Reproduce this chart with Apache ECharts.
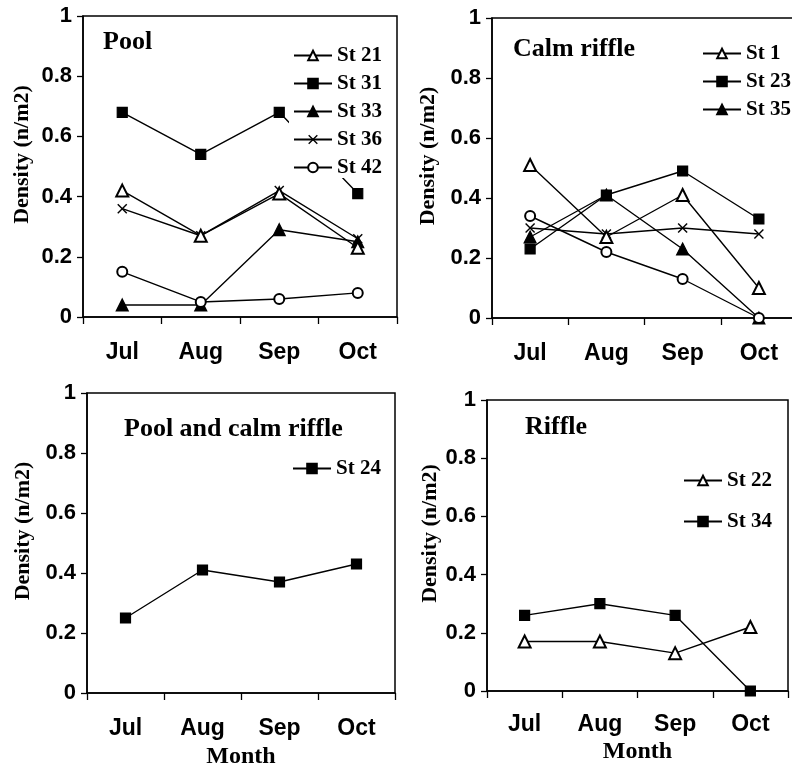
<!DOCTYPE html>
<html><head><meta charset="utf-8">
<script src="https://cdn.jsdelivr.net/npm/echarts@6/dist/echarts.min.js"></script>
<style>html,body{margin:0;padding:0;background:#fff}#c{width:792px;height:767px}</style>
</head><body><div id="c"></div>
<script>
// ---- data ----
const months = ['Jul', 'Aug', 'Sep', 'Oct'];
const panelTitles = ['Pool', 'Calm riffle', 'Pool and calm riffle', 'Riffle'];
// Pool
const poolSt21 = [0.42, 0.27, 0.41, 0.23];
const poolSt31 = [0.68, 0.54, 0.68, 0.41];
const poolSt33 = [0.04, 0.04, 0.29, 0.25];
const poolSt36 = [0.36, 0.27, 0.42, 0.26];
const poolSt42 = [0.15, 0.05, 0.06, 0.08];
// Calm riffle
const calmSt1 = [0.51, 0.27, 0.41, 0.10];
const calmSt23 = [0.23, 0.41, 0.49, 0.33];
const calmSt35 = [0.27, 0.41, 0.23, 0.00];
const calmCross = [0.30, 0.28, 0.30, 0.28];
const calmCircle = [0.34, 0.22, 0.13, 0.00];
// Pool and calm riffle
const mixSt24 = [0.25, 0.41, 0.37, 0.43];
// Riffle
const riffleSt22 = [0.17, 0.17, 0.13, 0.22];
const riffleSt34 = [0.26, 0.30, 0.26, 0.00];

// ---- styling ----
const SERIF = 'Liberation Serif';
const SANS = 'Liberation Sans';
const crossPath = 'path://M0,1 L1,0 L5,4 L9,0 L10,1 L6,5 L10,9 L9,10 L5,6 L1,10 L0,9 L4,5 Z';
const SYM = {
  openTri: { symbol: 'emptyTriangle', size: 12 },
  square: { symbol: 'rect', size: 10 },
  tri: { symbol: 'triangle', size: 12 },
  cross: { symbol: crossPath, size: 10 },
  circle: { symbol: 'emptyCircle', size: 10 }
};

const grids = [
  { left: 83, top: 16, width: 314, height: 301 },
  { left: 492, top: 18, width: 305, height: 300 },
  { left: 87, top: 393, width: 308, height: 300 },
  { left: 487, top: 400, width: 301, height: 291 }
];
const nameGaps = [50, 53, 53, 44];
const monthName = [false, false, true, true];
const monthGaps = [0, 0, 52, 49];
const labelMargins = [24, 24, 24, 22];

const xAxes = grids.map((g, i) => ({
  type: 'category', gridIndex: i, data: months, boundaryGap: true,
  axisLine: { lineStyle: { color: '#000', width: 1.5 } },
  axisTick: { show: true, length: 7, inside: false, lineStyle: { color: '#000', width: 1.3 } },
  axisLabel: { color: '#000', fontFamily: SANS, fontWeight: 'bold', fontSize: 23, margin: labelMargins[i] },
  name: monthName[i] ? 'Month' : '', nameLocation: 'middle', nameGap: monthGaps[i],
  nameTextStyle: { color: '#000', fontFamily: SERIF, fontWeight: 'bold', fontSize: 24 }
}));
const yAxes = grids.map((g, i) => ({
  type: 'value', gridIndex: i, min: 0, max: 1, interval: 0.2,
  axisLine: { show: true, lineStyle: { color: '#000', width: 1.5 } },
  axisTick: { show: true, length: 6, inside: false, lineStyle: { color: '#000', width: 1.3 } },
  splitLine: { show: false },
  axisLabel: { color: '#000', fontFamily: SANS, fontWeight: 'bold', fontSize: 22, margin: 11 },
  name: 'Density (n/m2)', nameLocation: 'middle', nameRotate: 90, nameGap: nameGaps[i],
  nameTextStyle: { color: '#000', fontFamily: SERIF, fontWeight: 'bold', fontSize: 22, padding: [0, 0, 0, 24] }
}));

function line(name, data, sym, idx) {
  return {
    type: 'line', name: name, data: data, xAxisIndex: idx, yAxisIndex: idx,
    symbol: SYM[sym].symbol, symbolSize: SYM[sym].size, showAllSymbol: true,
    lineStyle: { color: '#000', width: 1.4 },
    itemStyle: { color: '#000', borderColor: '#000', borderWidth: sym === 'cross' ? 0 : 1.2 },
    emphasis: { disabled: true }, animation: false, z: sym.startsWith('open') || sym === 'circle' ? 3 : 2
  };
}

const series = [
  line('St 21', poolSt21, 'openTri', 0),
  line('St 31', poolSt31, 'square', 0),
  line('St 33', poolSt33, 'tri', 0),
  line('St 36', poolSt36, 'cross', 0),
  line('St 42', poolSt42, 'circle', 0),
  line('St 1', calmSt1, 'openTri', 1),
  line('St 23', calmSt23, 'square', 1),
  line('St 35', calmSt35, 'tri', 1),
  line('calm cross', calmCross, 'cross', 1),
  line('calm circle', calmCircle, 'circle', 1),
  line('St 24', mixSt24, 'square', 2),
  line('St 22', riffleSt22, 'openTri', 3),
  line('St 34', riffleSt34, 'square', 3)
];

const legendText = { color: '#000', fontFamily: SERIF, fontWeight: 'bold', fontSize: 21, lineHeight: 20 };
function legend(data, left, top, gap) {
  return {
    data: data, orient: 'vertical', left: left, top: top, itemGap: gap,
    itemWidth: 38, itemHeight: 12, padding: [4, 4, 0, 4], backgroundColor: '#fff',
    textStyle: legendText, selectedMode: false, z: 10
  };
}

const titles = [
  { text: panelTitles[0], left: 103, top: 29 },
  { text: panelTitles[1], left: 513, top: 36 },
  { text: panelTitles[2], left: 124, top: 416 },
  { text: panelTitles[3], left: 525, top: 414 }
].map(t => Object.assign(t, { padding: 0, textStyle: { color: '#000', fontFamily: SERIF, fontWeight: 'bold', fontSize: 26 } }));

const chart = echarts.init(document.getElementById('c'), null, { renderer: 'canvas' });
chart.setOption({
  animation: false,
  backgroundColor: '#fff',
  title: titles,
  grid: grids.map(g => Object.assign({ show: true, borderColor: '#000', borderWidth: 1.5, containLabel: false, outerBoundsMode: 'none' }, g)),
  xAxis: xAxes,
  yAxis: yAxes,
  legend: [
    legend(['St 21', 'St 31', 'St 33', 'St 36', 'St 42'], 289, 41, 7),
    legend(['St 1', 'St 23', 'St 35'], 698, 39, 7),
    legend(['St 24'], 288, 454, 7),
    legend(['St 22', 'St 34'], 679, 466, 20)
  ],
  series: series
});
</script>
</body></html>
